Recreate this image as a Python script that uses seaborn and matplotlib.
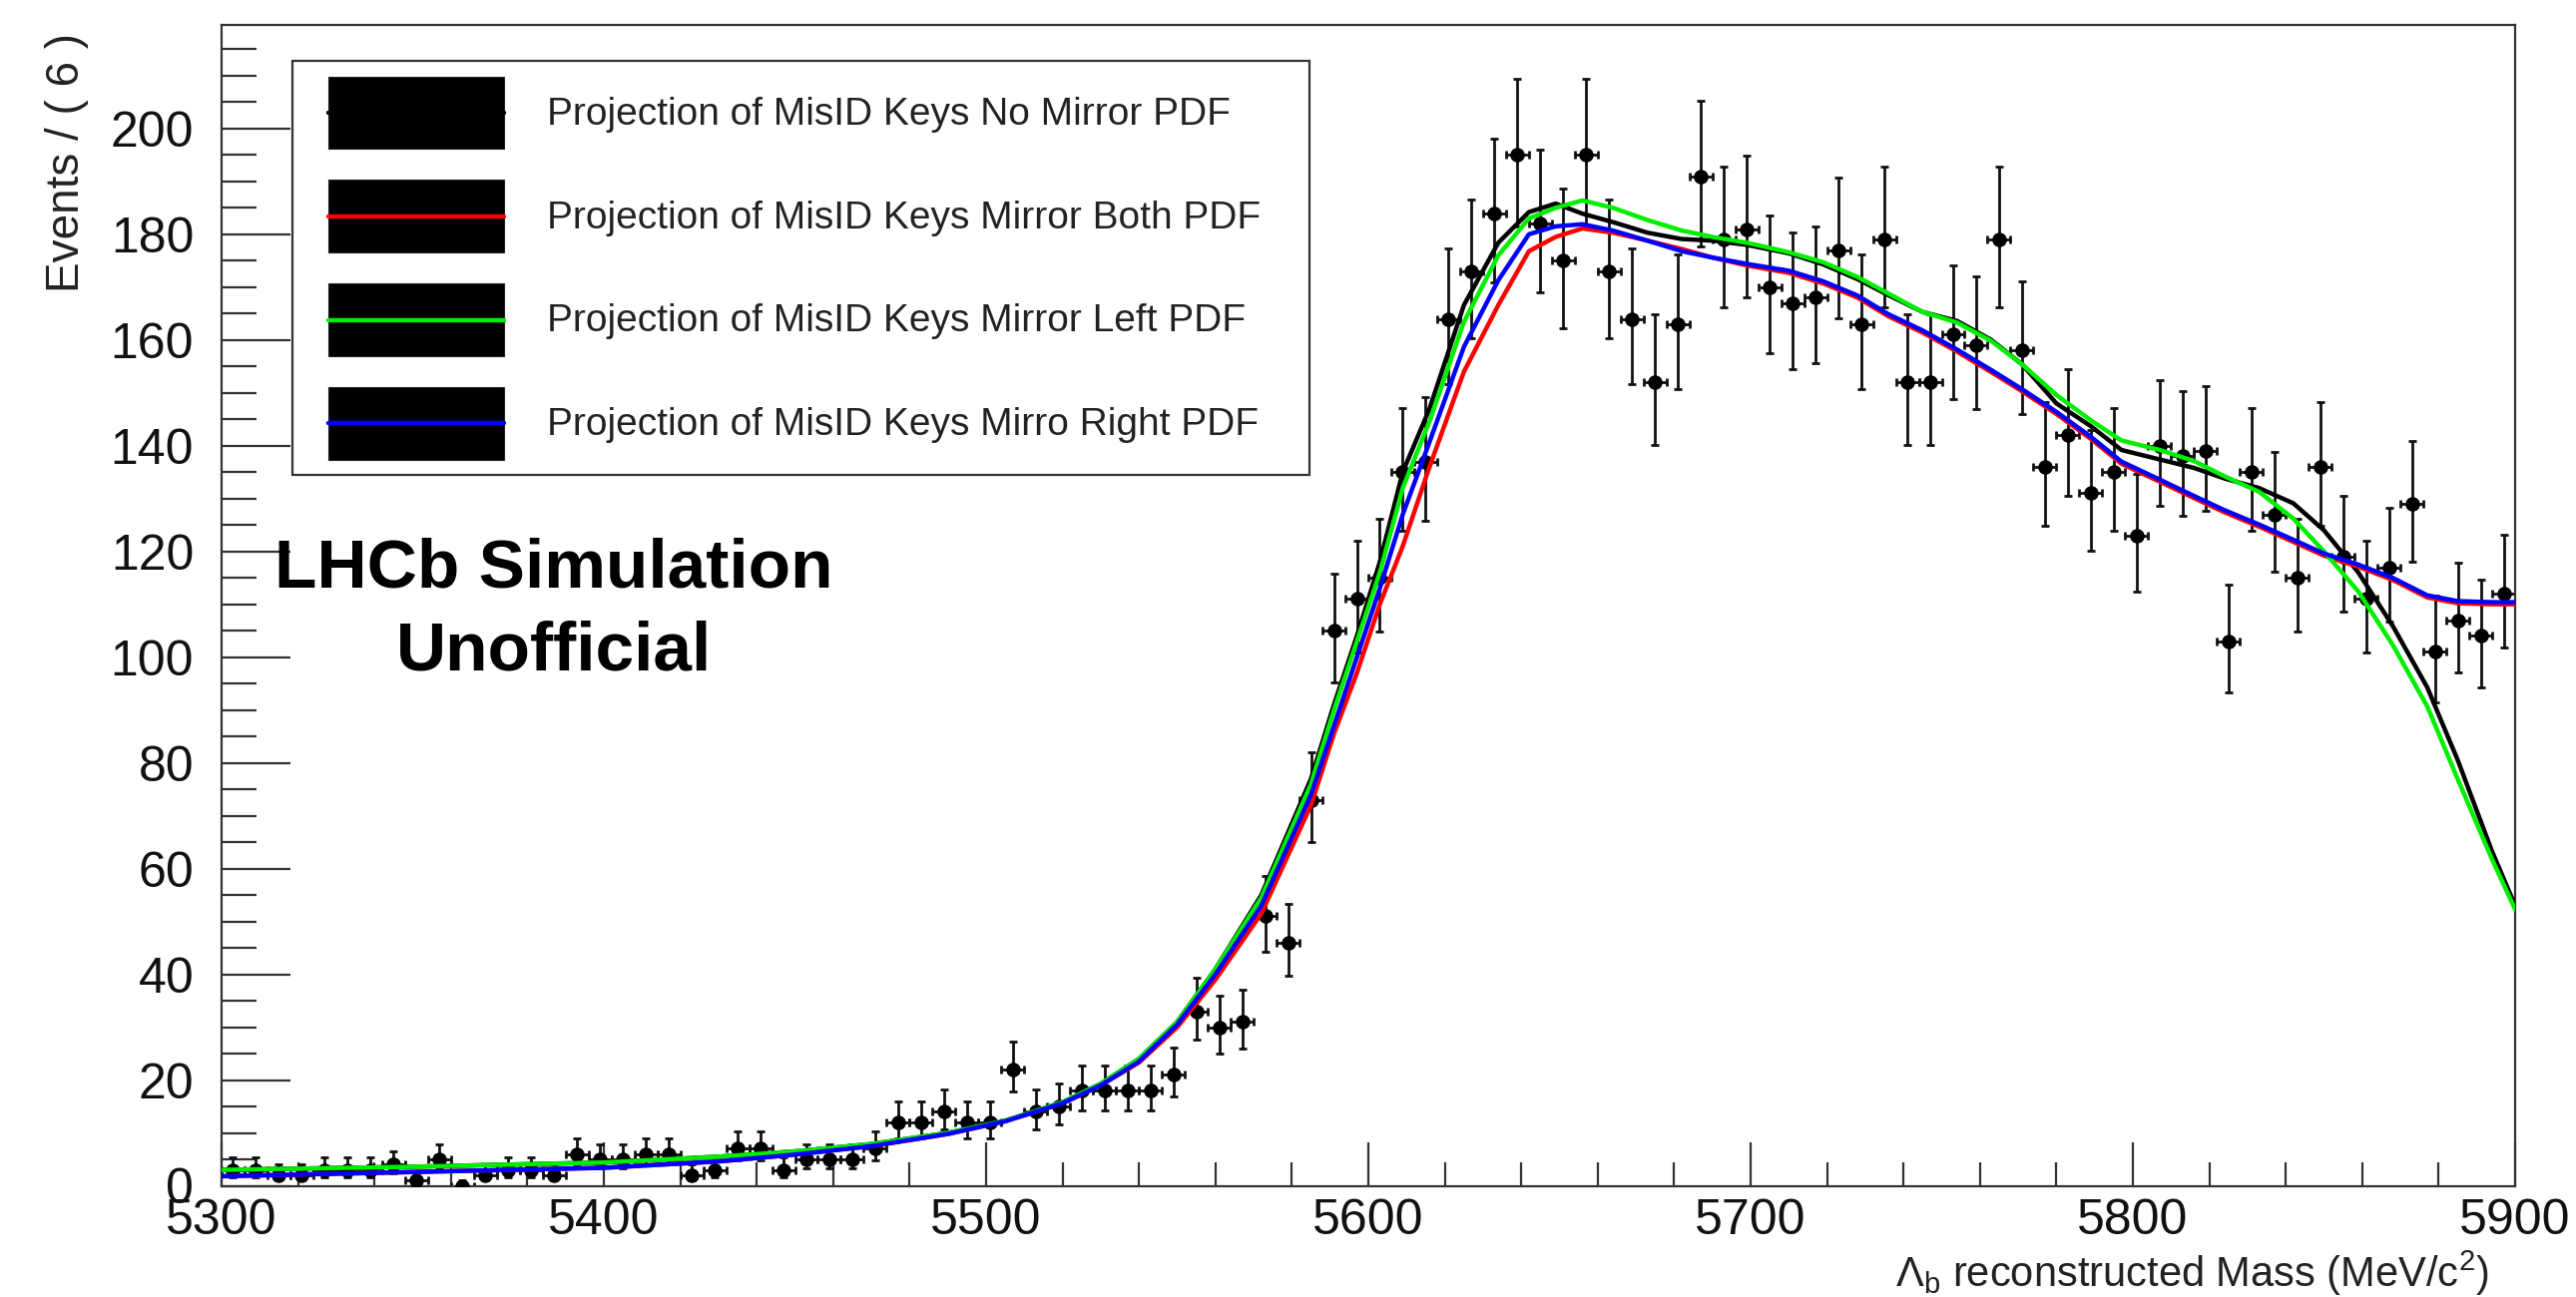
import numpy as np
import pandas as pd
import matplotlib
matplotlib.use("Agg")
import matplotlib.pyplot as plt
from matplotlib.patches import Rectangle
from matplotlib.lines import Line2D
from matplotlib.legend_handler import HandlerBase
from matplotlib.ticker import MultipleLocator
import seaborn as sns

# ---- binned simulated sample: 100 bins of 6 MeV between 5300 and 5900 ----
bin_width = 6.0
mass_lo, mass_hi = 5300.0, 5900.0
counts = [3, 3, 2, 2, 3, 3, 3, 4, 1, 5,
          0, 2, 3, 3, 2, 6, 5, 5, 6, 6,
          2, 3, 7, 7, 3, 5, 5, 5, 7, 12,
          12, 14, 12, 12, 22, 14, 15, 18, 18, 18,
          18, 21, 33, 30, 31, 51, 46, 73, 105, 111,
          115, 135, 137, 164, 173, 184, 195, 182, 175, 195,
          173, 164, 152, 163, 191, 179, 181, 170, 167, 168,
          177, 163, 179, 152, 152, 161, 159, 179, 158, 136,
          142, 131, 135, 123, 140, 138, 139, 103, 135, 127,
          115, 136, 119, 111, 117, 129, 101, 107, 104, 112]

# ---- projections of the four keys PDFs ----
curve_mass = [5300, 5350, 5400, 5430, 5450, 5470, 5490, 5505, 5520, 5530,
              5540, 5550, 5560, 5572, 5585, 5591, 5597, 5603, 5609, 5616,
              5625, 5634, 5642, 5649, 5656, 5664, 5673, 5682, 5690, 5699,
              5710, 5719, 5728, 5736, 5745, 5754, 5763, 5771, 5780, 5789,
              5797, 5807, 5816, 5824, 5833, 5842, 5850, 5859, 5868, 5877,
              5885, 5894, 5900]
pdf_no_mirror = [3.0, 3.6, 4.4, 5.5, 6.5, 7.9, 10.0, 12.3, 15.8, 19.3,
                 24, 31, 41, 55, 77, 91, 104, 118, 135, 147,
                 166.6, 178.4, 184.2, 185.8, 183.9, 182.3, 180.3, 179.1, 178.8, 178.0,
                 176.4, 174.3, 171.5, 168.5, 165.3, 163.6, 160.0, 155.4, 148.0, 143.7,
                 139.2, 137.4, 135.8, 133.8, 132.0, 129.1, 124.0, 116.0, 105.9, 94.3,
                 80.5, 63.2, 53.0]
pdf_mirror_both = [1.8, 2.6, 3.4, 4.6, 5.9, 7.5, 9.8, 12.2, 15.6, 19.0,
                   23.3, 30.0, 39, 51.5, 72, 85.5, 97, 110, 121, 136,
                   154, 166.6, 176.8, 179.5, 181.1, 180.3, 178.8, 177.2, 175.6, 174.1,
                   172.7, 170.7, 168.0, 164.5, 161.4, 157.8, 153.9, 150.3, 146.0, 141.3,
                   136.6, 133.2, 130.1, 127.4, 124.7, 121.8, 119.2, 117.1, 114.6, 111.3,
                   110.2, 110.0, 110.0]
pdf_mirror_left = [3.0, 3.6, 4.4, 5.5, 6.5, 7.9, 10.0, 12.3, 15.8, 19.3,
                   24, 31, 41, 54.5, 76, 90, 103, 116, 132, 144.6,
                   163.4, 176.0, 183.0, 185.0, 186.4, 185.0, 182.7, 180.7, 179.5, 178.4,
                   176.6, 174.7, 171.9, 168.8, 165.3, 163.3, 159.8, 155.4, 149.6, 144.8,
                   141.0, 139.2, 137.1, 134.2, 131.3, 126.2, 120.0, 112.4, 102.3, 90.7,
                   76.9, 61.7, 52.3]
pdf_mirror_right = [1.8, 2.6, 3.4, 4.6, 5.9, 7.5, 9.8, 12.2, 15.6, 19.0,
                    23.5, 30.5, 40, 53, 74, 87, 100, 113, 127, 140.7,
                    158.7, 171.3, 180.0, 181.5, 181.9, 180.7, 178.8, 176.8, 175.6, 174.4,
                    173.1, 171.1, 168.4, 164.9, 161.8, 158.2, 154.3, 150.7, 146.4, 141.7,
                    137.0, 133.6, 130.5, 127.8, 125.1, 122.2, 119.6, 117.5, 115.0, 111.7,
                    110.6, 110.4, 110.4]

model_names = ["Projection of MisID Keys No Mirror PDF",
               "Projection of MisID Keys Mirror Both PDF",
               "Projection of MisID Keys Mirror Left PDF",
               "Projection of MisID Keys Mirro Right PDF"]
model_colors = ["#000000", "#ff0000", "#00ee00", "#0000ff"]

# ---- style ----
sns.set_theme(style="ticks")
plt.rcParams["font.family"] = ["Liberation Sans", "DejaVu Sans"]
plt.rcParams["mathtext.fontset"] = "custom"
plt.rcParams["mathtext.rm"] = "Liberation Sans"
plt.rcParams["mathtext.it"] = "Liberation Sans:italic"
plt.rcParams["mathtext.bf"] = "Liberation Sans:bold"

W, H = 2581, 1300
fig = plt.figure(figsize=(W / 100, H / 100), dpi=100)
fig.patch.set_facecolor("white")
ax_l, ax_r, ax_t, ax_b = 222, 2520, 25, 1188.5
ax = fig.add_axes([ax_l / W, 1 - ax_b / H, (ax_r - ax_l) / W, (ax_b - ax_t) / H])
ax.set_facecolor("white")

# ---- data points with Poisson-style error bars ----
n = np.asarray(counts, dtype=float)
centers = mass_lo + bin_width * (np.arange(len(n)) + 0.5)
err_lo = np.sqrt(n + 0.25) - 0.5
err_hi = np.sqrt(n + 0.25) + 0.5
data_df = pd.DataFrame({"mass": centers, "events": n})

ax.errorbar(centers, n, yerr=[err_lo, err_hi], xerr=bin_width / 2,
            fmt="none", ecolor="#111111", elinewidth=2.0,
            capsize=3.0, capthick=2.0, zorder=2)
sns.scatterplot(data=data_df, x="mass", y="events", color="black",
                s=110, edgecolor="black", linewidth=0, ax=ax, zorder=3)

# ---- PDF curves ----
curve_df = pd.concat([
    pd.DataFrame({"mass": curve_mass, "density": vals, "model": name})
    for name, vals in zip(model_names,
                          [pdf_no_mirror, pdf_mirror_both,
                           pdf_mirror_left, pdf_mirror_right])
], ignore_index=True)
sns.lineplot(data=curve_df, x="mass", y="density", hue="model",
             hue_order=model_names, palette=model_colors,
             estimator=None, sort=False, linewidth=3.2,
             legend=False, ax=ax, zorder=4)

# ---- axes ----
ax.set_xlim(mass_lo, mass_hi)
ax.set_ylim(0, 219.6)
ax.xaxis.set_major_locator(MultipleLocator(100))
ax.xaxis.set_minor_locator(MultipleLocator(20))
ax.yaxis.set_major_locator(MultipleLocator(20))
ax.yaxis.set_minor_locator(MultipleLocator(5))
ax.tick_params(axis="both", which="both", direction="in", color="#333333",
               width=1.6, labelsize=36, labelcolor="#111111",
               top=False, right=False)
ax.tick_params(axis="y", which="major", length=50, pad=20)
ax.tick_params(axis="y", which="minor", length=25)
ax.tick_params(axis="x", which="major", length=32, pad=9)
ax.tick_params(axis="x", which="minor", length=17)
for sp in ax.spines.values():
    sp.set_visible(True)
    sp.set_linewidth(1.6)
    sp.set_color("#333333")

ax.set_ylabel("Events / ( 6 )", fontsize=33, color="#222222", loc="top")
ax.yaxis.set_label_coords(-0.058, 1 - 8 / (ax_b - ax_t))
ax.set_xlabel(r"$\Lambda_{\mathrm{b}}$ reconstructed Mass (MeV/c$^{2}$)",
              fontsize=30, color="#222222", loc="right")
ax.xaxis.set_label_coords((2494 - ax_l) / (ax_r - ax_l), -(1252 - ax_b) / (ax_b - ax_t))

# ---- annotation ----
ax.text((555 - ax_l) / (ax_r - ax_l), 1 - (612 - ax_t) / (ax_b - ax_t),
        "LHCb Simulation\nUnofficial", transform=ax.transAxes,
        ha="center", va="center", multialignment="center",
        fontsize=50, fontweight="bold", color="black", linespacing=1.38)


# ---- legend: black box with the curve colour through the middle ----
class BoxLineHandler(HandlerBase):
    def __init__(self, offset=0.53, **kw):
        super().__init__(**kw)
        self.offset = offset

    def create_artists(self, legend, orig_handle, xdescent, ydescent,
                       width, height, fontsize, trans):
        off = self.offset * fontsize
        x0 = -xdescent + off
        w = width - off
        rect = Rectangle((x0, -ydescent), w, height, facecolor="black",
                         edgecolor="#222222", linewidth=0.8, transform=trans)
        yc = -ydescent + height / 2
        line = Line2D([x0, x0 + w], [yc, yc], color=orig_handle.get_color(),
                      linewidth=orig_handle.get_linewidth(), transform=trans)
        return [rect, line]


handles = [Line2D([], [], color=c, linewidth=3.2) for c in model_colors]
leg_x0 = (293 - ax_l) / (ax_r - ax_l)
leg_w = (1312 - 293) / (ax_r - ax_l)
leg_top = 1 - (61 - ax_t) / (ax_b - ax_t)
leg = ax.legend(handles, model_names, loc="upper left",
                bbox_to_anchor=(leg_x0, leg_top, leg_w, 0), mode="expand",
                borderaxespad=0, fontsize=28, frameon=True, fancybox=False,
                edgecolor="#333333", framealpha=1, borderpad=0.4,
                handlelength=5.05, handleheight=2.5, labelspacing=0.8,
                handletextpad=1.1,
                handler_map={Line2D: BoxLineHandler()})
leg.get_frame().set_linewidth(1.6)
for t in leg.get_texts():
    t.set_color("#222222")
leg.set_zorder(6)

fig.savefig("out.png", dpi=100, facecolor="white")
